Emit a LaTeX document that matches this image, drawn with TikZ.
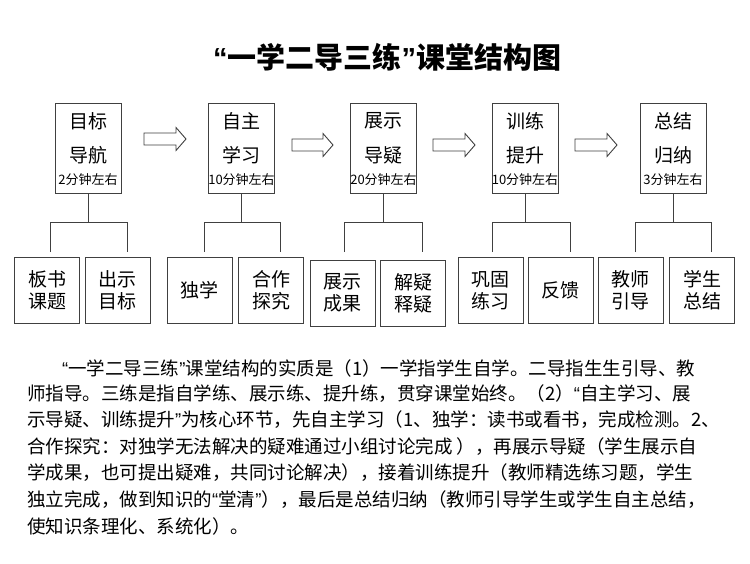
\documentclass[tikz,border=0pt]{standalone}
\usepackage{fontspec}
\setmainfont{Noto Sans CJK SC}
\newfontfamily\qfont{Liberation Sans}
\newcommand\oq{{\qfont “}}
\newcommand\cq{{\qfont ”}}
\newcommand\barrow[3]{%
  \draw[blockarrow] (#1,{#3-6}) -- ({#2-10},{#3-6}) -- ({#2-10},{#3-11.5}) -- (#2,#3) -- ({#2-10},{#3+11.5}) -- ({#2-10},{#3+6}) -- (#1,{#3+6}) -- cycle;}
\begin{document}
\begin{tikzpicture}[x=1pt,y=-1pt,
  lc/.style={draw=black!75, line width=1pt},
  topbox/.style={lc, minimum width=66pt, minimum height=90pt, inner sep=0},
  botbox/.style={lc, minimum width=65pt, minimum height=66pt, inner sep=0, align=center, font=\fontsize{19}{22}\selectfont},
  big/.style={font=\fontsize{19}{22}\selectfont, inner sep=0},
  small/.style={font=\fontsize{13}{15}\selectfont, inner sep=0},
  para/.style={font=\fontsize{18.5}{22}\selectfont, inner sep=0, anchor=west},
  blockarrow/.style={draw=black!75, line width=0.9pt, fill=white}
]
\useasboundingbox[fill=white] (0,0) rectangle (750,563);

\node[font=\fontsize{29}{32}\selectfont\bfseries, inner sep=0] (title) at (387,57) {\oq 一学二导三练\cq 课堂结构图};

% top boxes
\node[topbox] (T1) at (88,148) {};
\node[topbox] (T2) at (241.5,148) {};
\node[topbox] (T3) at (383.5,148) {};
\node[topbox] (T4) at (525,148) {};
\node[topbox] (T5) at (673,148) {};

\node[big] (T1a) at (88,121) {目标};
\node[big] (T1b) at (88,155) {导航};
\node[small] (T1c) at (88,180) {2分钟左右};
\node[big] (T2a) at (241.5,121) {自主};
\node[big] (T2b) at (241.5,155) {学习};
\node[small] (T2c) at (241.5,180) {10分钟左右};
\node[big] (T3a) at (383.5,121) {展示};
\node[big] (T3b) at (383.5,155) {导疑};
\node[small] (T3c) at (383.5,180) {20分钟左右};
\node[big] (T4a) at (525,121) {训练};
\node[big] (T4b) at (525,155) {提升};
\node[small] (T4c) at (525,180) {10分钟左右};
\node[big] (T5a) at (673,121) {总结};
\node[big] (T5b) at (673,155) {归纳};
\node[small] (T5c) at (673,180) {3分钟左右};

% block arrows
\barrow{144}{186}{139}
\barrow{292}{333}{145}
\barrow{433}{475}{145}
\barrow{575}{617}{145}

% bottom boxes
\node[botbox] (B1) at (47,290) {板书\\课题};
\node[botbox] (B2) at (117.5,290) {出示\\目标};
\node[botbox] (B3) at (199.5,290) {独学};
\node[botbox] (B4) at (271,290) {合作\\探究};
\node[botbox] (B5) at (342.5,293) {展示\\成果};
\node[botbox] (B6) at (413,293) {解疑\\释疑};
\node[botbox] (B7) at (490.5,290.5) {巩固\\练习};
\node[botbox] (B8) at (560.5,290.5) {反馈};
\node[botbox] (B9) at (630.5,290.5) {教师\\引导};
\node[botbox] (B10) at (702,290.5) {学生\\总结};

% tree connectors
\coordinate (H) at (0,222);
\coordinate (L1a) at (50,252);  \coordinate (L1b) at (127,252);
\coordinate (L2a) at (204,252); \coordinate (L2b) at (280,252);
\coordinate (L3a) at (344,252); \coordinate (L3b) at (422,252);
\coordinate (L4a) at (492,252); \coordinate (L4b) at (570,252);
\coordinate (L5a) at (635,252); \coordinate (L5b) at (711,252);
\foreach \i in {1,...,5}{
  \draw[lc] (T\i.south) -- (T\i.south |- H);
  \draw[lc] (L\i a) -- (L\i a |- H) -- (L\i b |- H) -- (L\i b);
}

% paragraph
\node[para] (p1) at (62,368) {\oq 一学二导三练\cq 课堂结构的实质是（1）一学指学生自学。二导指生生引导、教};
\node[para] (p2) at (27,394) {师指导。三练是指自学练、展示练、提升练，贯穿课堂始终。（2）\oq 自主学习、展};
\node[para] (p3) at (27,420) {示导疑、训练提升\cq 为核心环节，先自主学习（1、独学：读书或看书，完成检测。2、};
\node[para] (p4) at (27,447) {合作探究：对独学无法解决的疑难通过小组讨论完成 ），再展示导疑（学生展示自};
\node[para] (p5) at (27,473) {学成果，也可提出疑难，共同讨论解决），接着训练提升（教师精选练习题，学生};
\node[para] (p6) at (27,500) {独立完成，做到知识的\oq 堂清\cq ），最后是总结归纳（教师引导学生或学生自主总结，};
\node[para] (p7) at (27,526) {使知识条理化、系统化）。};
\end{tikzpicture}
\end{document}
